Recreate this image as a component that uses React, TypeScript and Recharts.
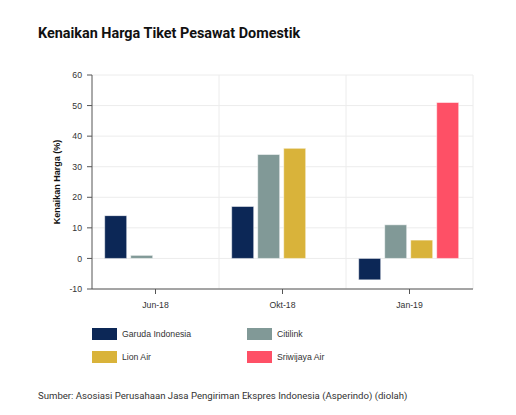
import React from 'react';
import { BarChart, Bar, XAxis, YAxis, CartesianGrid } from 'recharts';

const periods = ['Jun-18', 'Okt-18', 'Jan-19'];
const garuda = [14, 17, -7];
const citilink = [1, 34, 11];
const lionAir = [null, 36, 6];
const sriwijaya = [null, null, 51];
const yTicks = [-10, 0, 10, 20, 30, 40, 50, 60];

const SERIES = [
  { key: 'garuda', name: 'Garuda Indonesia', color: '#0c2756' },
  { key: 'citilink', name: 'Citilink', color: '#819997' },
  { key: 'lion', name: 'Lion Air', color: '#d9b33a' },
  { key: 'sriwijaya', name: 'Sriwijaya Air', color: '#fe5066' }
];

const data = periods.map((p, i) => ({
  period: p,
  garuda: garuda[i],
  citilink: citilink[i],
  lion: lionAir[i],
  sriwijaya: sriwijaya[i]
}));

const tickStyle = { fontFamily: '"Liberation Sans", Arial, sans-serif', fontSize: 8.7, fill: '#333' };

export default function App() {
  return (
    <div style={{ position: 'absolute', left: 0, top: 0, width: 516, height: 415, background: '#fff', fontFamily: 'Roboto, sans-serif' }}>
      <div style={{ position: 'absolute', left: 38, top: 25, fontSize: 14.4, fontWeight: 700, color: '#111' }}>
        Kenaikan Harga Tiket Pesawat Domestik
      </div>

      <div
        style={{
          position: 'absolute',
          left: 57,
          top: 182,
          transform: 'translate(-50%, -50%) rotate(-90deg)',
          whiteSpace: 'nowrap',
          fontFamily: '"Liberation Sans", Arial, sans-serif',
          fontSize: 9,
          fontWeight: 700,
          color: '#111'
        }}
      >
        Kenaikan Harga (%)
      </div>

      <div style={{ position: 'absolute', left: 0, top: 0 }}>
        <BarChart
          width={516}
          height={415}
          data={data}
          margin={{ top: 75, right: 43, left: 42, bottom: 96 }}
          barCategoryGap="10%"
          barGap={4}
        >
          <CartesianGrid
            stroke="#ececec"
            verticalCoordinatesGenerator={({ offset }: any) => [
              offset.left + offset.width / 3,
              offset.left + (2 * offset.width) / 3,
              offset.left + offset.width
            ]}
          />
          <XAxis
            dataKey="period"
            stroke="#555"
            tickSize={5}
            tickMargin={8}
            tick={tickStyle}
            height={30}
          />
          <YAxis
            domain={[-10, 60]}
            ticks={yTicks}
            stroke="#555"
            tickSize={5}
            tickMargin={5}
            tick={tickStyle}
            width={50}
            interval={0}
          />
          {SERIES.map((s) => (
            <Bar
              key={s.key}
              dataKey={s.key}
              name={s.name}
              fill={s.color}
              stroke="#ffffff"
              strokeOpacity={0.5}
              isAnimationActive={false}
            />
          ))}
        </BarChart>
      </div>

      <div
        style={{
          position: 'absolute',
          left: 92,
          top: 327,
          display: 'grid',
          gridTemplateColumns: '155px 155px',
          rowGap: 10,
          fontFamily: '"Liberation Sans", Arial, sans-serif',
          fontSize: 8.7,
          color: '#333'
        }}
      >
        {SERIES.map((s) => (
          <div key={s.key} style={{ display: 'flex', alignItems: 'center', height: 13 }}>
            <span style={{ display: 'inline-block', width: 25, height: 12, background: s.color, marginRight: 5 }} />
            {s.name}
          </div>
        ))}
      </div>

      <div style={{ position: 'absolute', left: 38, top: 390, fontSize: 9.6, color: '#333' }}>
        Sumber: Asosiasi Perusahaan Jasa Pengiriman Ekspres Indonesia (Asperindo) (diolah)
      </div>
    </div>
  );
}
